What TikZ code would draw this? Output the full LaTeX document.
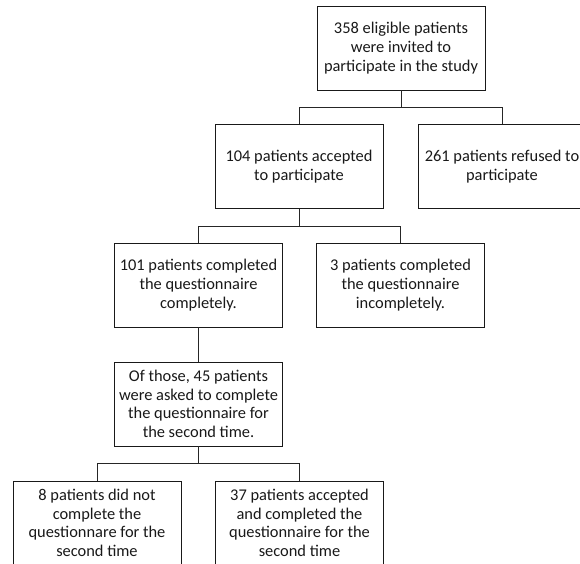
\documentclass[tikz,border=0pt]{standalone}
\usepackage{fontspec}
\setmainfont{Carlito}
\begin{document}
\begin{tikzpicture}[x=1pt,y=-1pt,
  box/.style={draw=black!90, line width=0.9pt, minimum width=168pt, minimum height=84pt,
    inner sep=2pt, align=center, font=\fontsize{16.4}{18.7}\selectfont, text=black!90},
  conn/.style={draw=black!85, line width=0.9pt}]
\clip (0,0) rectangle (580,563);
\fill[white] (0,0) rectangle (580,563);
\node[box] (b1) at (401,48) {358 eligible patients\\were invited to\\participate in the study};
\node[box] (b2) at (299,166.5) {104 patients accepted\\to participate};
\node[box] (b3) at (502,166.5) {261 patients refused to\\participate};
\node[box] (b4) at (198.5,285) {101 patients completed\\the questionnaire\\completely.};
\node[box] (b5) at (400.5,285) {3 patients completed\\the questionnaire\\incompletely.};
\node[box] (b6) at (198.5,404) {Of those, 45 patients\\were asked to complete\\the questionnaire for\\the second time.};
\node[box] (b7) at (97,523) {8 patients did not\\complete the\\questionnare for the\\second time};
\node[box] (b8) at (299.5,523) {37 patients accepted\\and completed the\\questionnaire for the\\second time};
\coordinate (j1) at (401,107);
\coordinate (j2) at (299,226);
\coordinate (j3) at (198.5,463);
\draw[conn] (b1.south) -- (j1) -| (b2.north);
\draw[conn] (j1) -| (b3.north);
\draw[conn] (b2.south) -- (j2) -| (b4.north);
\draw[conn] (j2) -| (b5.north);
\draw[conn] (b4.south) -- (b6.north);
\draw[conn] (b6.south) -- (j3) -| (b7.north);
\draw[conn] (j3) -| (b8.north);
\end{tikzpicture}
\end{document}
